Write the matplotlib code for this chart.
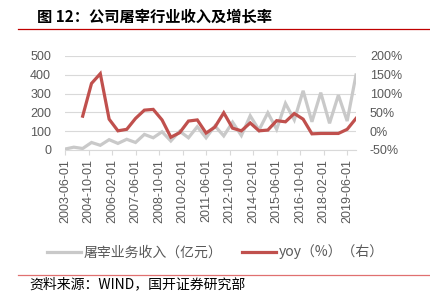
import matplotlib
matplotlib.use("Agg")
import matplotlib.pyplot as plt
from matplotlib.lines import Line2D
import pandas as pd

dates = ["2003-06-01", "2003-12-01", "2004-06-01", "2004-12-01", "2005-06-01", "2005-12-01",
         "2006-06-01", "2006-12-01", "2007-06-01", "2007-12-01", "2008-06-01", "2008-12-01",
         "2009-06-01", "2009-12-01", "2010-06-01", "2010-12-01", "2011-06-01", "2011-12-01",
         "2012-06-01", "2012-12-01", "2013-06-01", "2013-12-01", "2014-06-01", "2014-12-01",
         "2015-06-01", "2015-12-01", "2016-06-01", "2016-12-01", "2017-06-01", "2017-12-01",
         "2018-06-01", "2018-12-01", "2019-06-01", "2019-12-01"]
revenue = [5, 15, 8, 40, 25, 55, 35, 57, 40, 83, 65, 97, 48, 100, 65, 124, 65, 128,
           75, 148, 77, 182, 106, 198, 110, 248, 160, 315, 150, 305, 142, 292, 154, 399]
yoy = [None, None, 40, 127, 153, 32, 1, 5, 34, 56, 58, 30, -16, -4, 27, 30, -5, 11,
       49, 8, 1, 22, 1, 3, 28, 25, 47, 32, -7, -6, -6, -6, 5, 34]
tick_labels = ["2003-06-01", "2004-10-01", "2006-02-01", "2007-06-01", "2008-10-01",
               "2010-02-01", "2011-06-01", "2012-10-01", "2014-02-01", "2015-06-01",
               "2016-10-01", "2018-02-01", "2019-06-01"]

title = "图 12：公司屠宰行业收入及增长率"
source = "资料来源：WIND，国开证券研究部"
label_rev = "屠宰业务收入（亿元）"
label_yoy = "yoy（%）（右）"

plt.rcParams['font.family'] = ['Liberation Sans', 'Noto Sans CJK SC', 'DejaVu Sans']

x = pd.to_datetime(dates)
yoy_s = pd.Series(yoy, dtype=float)
ticks = pd.to_datetime(tick_labels)

W, H = 431, 291
fig = plt.figure(figsize=(W / 100, H / 100), dpi=100)
ax = fig.add_axes([65 / W, 1 - 150 / H, (356 - 65) / W, (150 - 56) / H])
ax2 = ax.twinx()

gray = "#c9c9c9"
red = "#c0504d"
txt = "#595959"

ax.plot(x, revenue, color=gray, lw=2.3, solid_joinstyle="miter", zorder=2)
ax2.plot(x, yoy_s, color=red, lw=2.3, solid_joinstyle="miter", zorder=3)

ax.set_ylim(0, 500)
ax.set_yticks(range(0, 501, 100))
ax2.set_ylim(-50, 200)
ax2.set_yticks(range(-50, 201, 50))
ax2.set_yticklabels([f"{v}%" for v in range(-50, 201, 50)])
ax.set_xlim(x[0], x[-1])
ax.set_xticks(ticks)
ax.set_xticklabels(tick_labels, rotation=90)

ax.grid(axis="y", color="#d9d9d9", lw=0.8)
ax.set_axisbelow(True)
for a in (ax, ax2):
    for s in a.spines.values():
        s.set_visible(False)
ax.spines["bottom"].set_visible(True)
ax.spines["bottom"].set_color("#d9d9d9")
ax.spines["bottom"].set_linewidth(0.8)

ax.tick_params(axis="y", length=0, pad=10, labelsize=9, labelcolor=txt)
ax2.tick_params(axis="y", length=0, pad=10, labelsize=9, labelcolor=txt)
ax.tick_params(axis="x", length=3.5, width=0.8, color="#d9d9d9", pad=3, labelsize=9, labelcolor=txt)
ax2.set_zorder(ax.get_zorder() + 1)

# title and decorative lines
fig.text(37 / W, 1 - 17 / H, title, fontsize=11, fontweight="bold", color="black",
         family=['Noto Sans CJK SC', 'DejaVu Sans'], va="center", ha="left")
fig.add_artist(Line2D([18 / W, 1], [1 - 28.5 / H, 1 - 28.5 / H], color="#c00000", lw=0.9))
fig.add_artist(Line2D([18 / W, 1], [1 - 275 / H, 1 - 275 / H], color="#e07070", lw=0.9))
fig.text(29 / W, 1 - 284 / H, source, fontsize=10, color="black",
         family=['Noto Sans CJK SC', 'DejaVu Sans'], va="center", ha="left")

handles = [Line2D([], [], color=gray, lw=2.3), Line2D([], [], color=red, lw=2.3)]
leg = fig.legend(handles, [label_rev, label_yoy], loc="center", bbox_to_anchor=(215 / W, 1 - 252 / H),
                 ncol=2, frameon=False, handlelength=2.5, handletextpad=0.15, columnspacing=1.4,
                 prop={"family": ['Noto Sans CJK SC', 'DejaVu Sans'], "size": 10})
for t in leg.get_texts():
    t.set_color(txt)

fig.savefig("out.png", dpi=100)
